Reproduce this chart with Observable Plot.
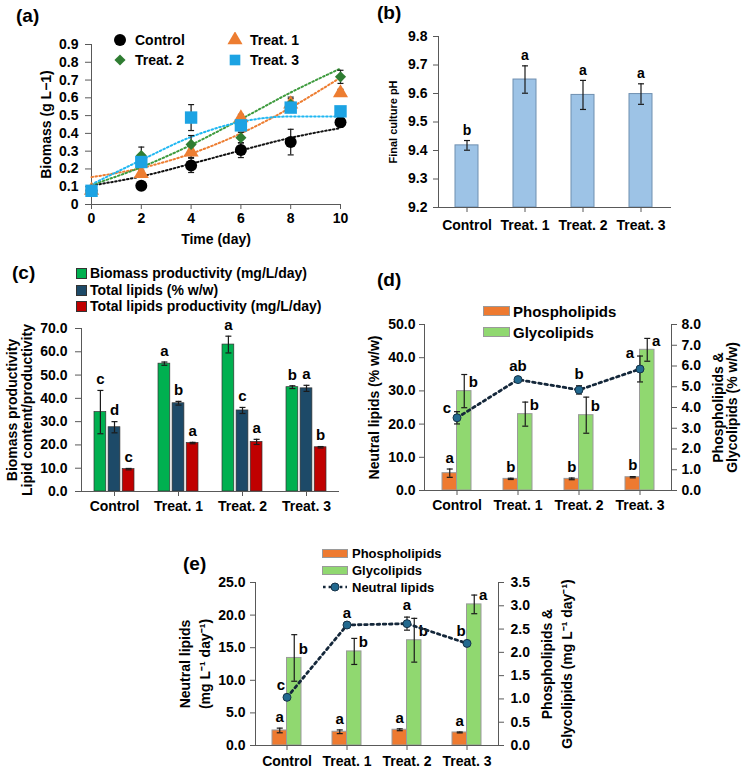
<!DOCTYPE html>
<html>
<head>
<meta charset="utf-8">
<script src="https://cdn.jsdelivr.net/npm/d3@7"></script>
<script src="https://cdn.jsdelivr.net/npm/@observablehq/plot@0.6"></script>
<style>
  html, body { margin: 0; padding: 0; background: #fff; }
  #fig { position: relative; width: 744px; height: 768px; overflow: hidden; font-family: "Liberation Sans", Arial, Helvetica, sans-serif; font-weight: bold; color: #000; }
  .panel { position: absolute; }
  .panel svg { overflow: visible; }
  .tag { position: absolute; font-size: 19px; font-weight: bold; line-height: 1; }
  .leg { position: absolute; font-size: 14px; font-weight: bold; line-height: 1; white-space: nowrap; display: flex; align-items: center; height: 16px; }
  .leg svg { display: block; }
</style>
</head>
<body>
<div id="fig"></div>
<script>
// ---------------- DATA ----------------
const categories = ["Control", "Treat. 1", "Treat. 2", "Treat. 3"];

// (a) biomass growth
const days = [0, 2, 4, 6, 8, 10];
const seriesA = ["Control", "Treat. 1", "Treat. 2", "Treat. 3"];
const biomassControl = [0.078, 0.105, 0.220, 0.306, 0.351, 0.462];
const biomassT1 = [0.080, 0.173, 0.295, 0.487, 0.565, 0.628];
const biomassT2 = [0.082, 0.276, 0.338, 0.376, 0.564, 0.718];
const biomassT3 = [0.077, 0.239, 0.489, 0.445, 0.545, 0.524];
const errControl = [0.005, 0.008, 0.040, 0.042, 0.072, 0.028];
const errT1 = [0.005, 0.020, 0.030, 0.020, 0.030, 0.020];
const errT2 = [0.005, 0.047, 0.050, 0.030, 0.040, 0.037];
const errT3 = [0.010, 0.020, 0.073, 0.030, 0.020, 0.015];
const trendControl = [0.107, 0.158, 0.229, 0.304, 0.375, 0.430];
const trendT1 = [0.154, 0.205, 0.286, 0.400, 0.545, 0.714];
const trendT2 = [0.110, 0.210, 0.335, 0.480, 0.630, 0.765];
const trendT3 = [0.113, 0.250, 0.380, 0.465, 0.495, 0.495];
const yTicksA = [0, 0.1, 0.2, 0.3, 0.4, 0.5, 0.6, 0.7, 0.8, 0.9];

// (b) final pH
const phFinal = [9.418, 9.649, 9.595, 9.598];
const phErr = [0.017, 0.048, 0.051, 0.036];
const phLetters = ["b", "a", "a", "a"];
const yTicksB = [9.2, 9.3, 9.4, 9.5, 9.6, 9.7, 9.8];

// (c) productivity
const seriesC = ["Biomass productivity (mg/L/day)", "Total lipids (% w/w)", "Total lipids productivity (mg/L/day)"];
const biomassProd = [34.1, 54.9, 63.1, 44.8];
const biomassProdErr = [9.3, 0.7, 3.6, 0.6];
const totalLipids = [27.6, 37.9, 34.8, 44.3];
const totalLipidsErr = [2.4, 0.8, 1.3, 1.3];
const lipidProd = [9.6, 20.8, 21.3, 19.0];
const lipidProdErr = [0.3, 0.3, 1.1, 0.3];
const lettersBiomassProd = ["c", "a", "a", "b"];
const lettersTotalLipids = ["d", "b", "c", "a"];
const lettersLipidProd = ["c", "a", "a", "b"];
const yTicksC = [0, 10, 20, 30, 40, 50, 60, 70];

// (d) lipid classes (% w/w)
const neutralPct = [21.9, 33.4, 30.3, 36.6];
const neutralPctErr = [1.85, 0.3, 1.25, 3.9];
const phosphoPct = [0.835, 0.56, 0.56, 0.64];
const phosphoPctErr = [0.2, 0.03, 0.04, 0.03];
const glycoPct = [4.79, 3.68, 3.63, 6.78];
const glycoPctErr = [0.8, 0.58, 0.87, 0.55];
const lettersNeutralPct = ["c", "ab", "b", "a"];
const lettersPhosphoPct = ["a", "b", "b", "b"];
const lettersGlycoPct = ["b", "b", "b", "a"];
const leftTicksD = [0, 10, 20, 30, 40, 50];
const rightTicksD = [0, 1, 2, 3, 4, 5, 6, 7, 8];

// (e) lipid class productivity
const neutralProd = [7.39, 18.48, 18.69, 15.66];
const neutralProdErr = [0, 0, 1.0, 0];
const phosphoProd = [0.323, 0.295, 0.338, 0.28];
const phosphoProdErr = [0.05, 0.04, 0.02, 0.01];
const glycoProd = [1.88, 2.02, 2.26, 3.03];
const glycoProdErr = [0.5, 0.28, 0.47, 0.2];
const lettersNeutralProd = ["c", "a", "a", "b"];
const lettersPhosphoProd = ["a", "a", "a", "a"];
const lettersGlycoProd = ["b", "b", "b", "a"];
const leftTicksE = [0, 5, 10, 15, 20, 25];
const rightTicksE = [0, 0.5, 1, 1.5, 2, 2.5, 3, 3.5];

// ---------------- STYLE / HELPERS ----------------
const FONT = '"Liberation Sans", Arial, Helvetica, sans-serif';
const AXIS = "#595959";
const ERR = "#1a1a1a";
const fig = document.getElementById("fig");
const style = (fs) => ({fontFamily: FONT, fontSize: fs + "px", fontWeight: "bold", color: "#000", background: "transparent", overflow: "visible"});

function addPanel(svg, left, top) {
  const d = document.createElement("div");
  d.className = "panel";
  d.style.left = left + "px"; d.style.top = top + "px";
  d.appendChild(svg); fig.appendChild(d);
}
function addTag(text, left, top) {
  const d = document.createElement("div");
  d.className = "tag"; d.textContent = text;
  d.style.left = left + "px"; d.style.top = top + "px";
  fig.appendChild(d);
}
function addLegend(left, cy, swatch, text, fs) {
  const d = document.createElement("div");
  d.className = "leg";
  d.style.left = left + "px"; d.style.top = (cy - 8) + "px";
  if (fs) d.style.fontSize = fs + "px";
  d.innerHTML = swatch + "<span>" + text + "</span>";
  fig.appendChild(d);
}
const rectSwatch = (w, h, fill, stroke, gap) =>
  `<svg width="${w}" height="${h}" style="margin-right:${gap}px"><rect x="0.5" y="0.5" width="${w - 1}" height="${h - 1}" fill="${fill}" stroke="${stroke}"/></svg>`;
const symbolSwatch = (sym, r, fill, gap) =>
  `<svg width="16" height="16" style="margin-right:${gap}px"><path transform="translate(8,8)" d="${d3.symbol(sym, Math.PI * r * r)()}" fill="${fill}"/></svg>`;

const capSymbol = {draw(ctx, size) { const r = Math.sqrt(size / Math.PI); ctx.moveTo(-r, 0); ctx.lineTo(r, 0); }};

function errorBars(rows, x, y, err, dx = 0, cap = 3) {
  const rs = rows.filter(d => d[err] > 0);
  return [
    Plot.ruleX(rs, {x, y1: d => d[y] - d[err], y2: d => d[y] + d[err], dx, stroke: ERR, strokeWidth: 1.2}),
    Plot.dot(rs, {x, y: d => d[y] + d[err], dx, symbol: capSymbol, r: cap, stroke: ERR, strokeWidth: 1.2, fill: "none"}),
    Plot.dot(rs, {x, y: d => d[y] - d[err], dx, symbol: capSymbol, r: cap, stroke: ERR, strokeWidth: 1.2, fill: "none"})
  ];
}
const fmt1 = d => (+d).toFixed(1);
const vLabel = (t, anchor, dx, extra = {}) => Plot.text([t], {text: d => d, frameAnchor: anchor, textAnchor: "middle", lineAnchor: "middle", dx, rotate: -90, ...extra});

// ---------------- PANEL (a) ----------------
{
  const values = [biomassControl, biomassT1, biomassT2, biomassT3];
  const errs = [errControl, errT1, errT2, errT3];
  const trends = [trendControl, trendT1, trendT2, trendT3];
  const rowsA = seriesA.flatMap((s, i) => days.map((day, j) => ({series: s, day, value: values[i][j], err: errs[i][j], trend: trends[i][j]})));
  const dotColors = ["#000000", "#ed7d31", "#2f7d32", "#1ca3e3"];
  const trendColors = ["#111111", "#ed7d31", "#3e9b3e", "#1fb7f2"];
  const symbols = ["circle", "triangle", "diamond2", "square"];
  const radii = [6, 5.6, 5, 7];
  const marks = [
    Plot.frame({anchor: "left", stroke: AXIS}),
    Plot.frame({anchor: "bottom", stroke: AXIS}),
    Plot.axisY({ticks: yTicksA, tickSize: 6, tickPadding: 7, tickFormat: d => d === 0 ? "0" : fmt1(d), stroke: AXIS, label: null}),
    Plot.axisX({ticks: days, tickSize: 5, tickPadding: 4, stroke: AXIS, label: null}),
    Plot.text(["Time (day)"], {text: d => d, frameAnchor: "bottom", dy: 39}),
    vLabel("Biomass (g L−1)", "left", -45)
  ];
  seriesA.forEach((s, i) => marks.push(Plot.line(rowsA.filter(d => d.series === s), {x: "day", y: "trend", stroke: trendColors[i], strokeWidth: 2, strokeDasharray: "1.6 2.4", curve: "monotone-x"})));
  seriesA.forEach((s, i) => marks.push(...errorBars(rowsA.filter(d => d.series === s), "day", "value", "err", 0, 3)));
  seriesA.forEach((s, i) => marks.push(Plot.dot(rowsA.filter(d => d.series === s), {x: "day", y: "value", symbol: symbols[i], r: radii[i], fill: dotColors[i]})));
  addPanel(Plot.plot({
    width: 360, height: 258, marginLeft: 91, marginRight: 20, marginTop: 44, marginBottom: 54,
    style: style(14), x: {domain: [0, 10]}, y: {domain: [0, 0.9]}, marks
  }), 0, 0);
  addTag("(a)", 16, 6);
  addLegend(112, 40, symbolSwatch(d3.symbolCircle, 6, dotColors[0], 7), seriesA[0]);
  addLegend(227, 40, symbolSwatch(d3.symbolTriangle, 5.6, dotColors[1], 7), seriesA[1]);
  addLegend(112, 60, symbolSwatch(d3.symbolDiamond2, 5, dotColors[2], 7), seriesA[2]);
  addLegend(227, 60, symbolSwatch(d3.symbolSquare, 6, dotColors[3], 7), seriesA[3]);
}

// ---------------- PANEL (b) ----------------
{
  const rowsB = categories.map((c, i) => ({cat: c, value: phFinal[i], err: phErr[i], letter: phLetters[i]}));
  addPanel(Plot.plot({
    width: 374, height: 250, marginLeft: 68, marginRight: 74, marginTop: 36, marginBottom: 43,
    style: style(14),
    x: {domain: categories, paddingInner: 0.6, paddingOuter: 0.3},
    y: {domain: [yTicksB[0], yTicksB[yTicksB.length - 1]]},
    marks: [
      Plot.barY(rowsB, {x: "cat", y1: yTicksB[0], y2: "value", fill: "#9dc3e6", stroke: "#6f8fb0", strokeWidth: 1}),
      ...errorBars(rowsB, "cat", "value", "err", 0, 3),
      Plot.text(rowsB, {x: "cat", y: d => d.value + d.err, text: "letter", dy: -10}),
      Plot.frame({anchor: "left", stroke: AXIS}),
      Plot.frame({anchor: "bottom", stroke: AXIS}),
      Plot.axisY({ticks: yTicksB, tickSize: 5, tickPadding: 6, tickFormat: fmt1, stroke: AXIS, label: null}),
      Plot.axisX({tickSize: 5, tickPadding: 8, stroke: AXIS, label: null}),
      vLabel("Final culture pH", "left", -45, {fontSize: 11})
    ]
  }), 370, 0);
  addTag("(b)", 377, 3);
}

// ---------------- PANEL (c) ----------------
{
  const colorsC = ["#00b050", "#1d4a68", "#c00000"];
  const bw = (257 / 4) * (1 - 0.38);
  const gap = 2.5;
  const barW = (bw - 2 * gap) / 3;
  const vals = [biomassProd, totalLipids, lipidProd];
  const errs = [biomassProdErr, totalLipidsErr, lipidProdErr];
  const lets = [lettersBiomassProd, lettersTotalLipids, lettersLipidProd];
  const rowsC = seriesC.flatMap((s, k) => categories.map((c, i) => ({series: s, k, cat: c, value: vals[k][i], err: errs[k][i], letter: lets[k][i]})));
  const marks = [];
  seriesC.forEach((s, k) => {
    const rows = rowsC.filter(d => d.k === k);
    const insetLeft = k * (barW + gap), insetRight = bw - insetLeft - barW;
    const dx = (k - 1) * (barW + gap);
    marks.push(Plot.barY(rows, {x: "cat", y: "value", fill: colorsC[k], stroke: "#333", strokeWidth: 0.7, insetLeft, insetRight}));
    marks.push(...errorBars(rows, "cat", "value", "err", dx, 3));
    marks.push(Plot.text(rows, {x: "cat", y: d => d.value + d.err, text: "letter", dx, dy: -11, fontSize: 15}));
  });
  addPanel(Plot.plot({
    width: 360, height: 268, marginLeft: 81, marginRight: 22, marginTop: 78, marginBottom: 27,
    style: style(14),
    x: {domain: categories, paddingInner: 0.38, paddingOuter: 0.19},
    y: {domain: [0, 70]},
    marks: [
      ...marks,
      Plot.frame({anchor: "left", stroke: AXIS}),
      Plot.frame({anchor: "bottom", stroke: AXIS}),
      Plot.axisY({ticks: yTicksC, tickSize: 6, tickPadding: 8, tickFormat: fmt1, stroke: AXIS, label: null}),
      Plot.axisX({tickSize: 5, tickPadding: 5, stroke: AXIS, label: null}),
      vLabel("Biomass productivity", "left", -69),
      vLabel("Lipid content/productivity", "left", -54)
    ]
  }), 0, 250);
  addTag("(c)", 12, 263);
  addLegend(76, 273, rectSwatch(11, 11, colorsC[0], "#333", 3), seriesC[0]);
  addLegend(76, 290, rectSwatch(11, 11, colorsC[1], "#333", 3), seriesC[1]);
  addLegend(76, 306, rectSwatch(11, 11, colorsC[2], "#333", 3), seriesC[2]);
}

// lipid class panels helper
const ORANGE = "#ee7a30", LGREEN = "#90d870", BARSTROKE = "#9a9a9a";
const LINE = "#14273a", DOTF = "#22698f", DOTS = "#163349";

function lipidPanel(o) {
  const k = o.k, bw = o.bw;
  const rows = categories.map((c, i) => ({
    cat: c, neutral: o.neutral[i], nErr: o.neutralErr[i], nLet: o.lettersNeutral[i],
    phos: o.phospho[i] * k, pErr: o.phosphoErr[i] * k, pLet: o.lettersPhospho[i],
    gly: o.glyco[i] * k, gErr: o.glycoErr[i] * k, gLet: o.lettersGlyco[i]
  }));
  const off = bw / 4;
  return Plot.plot({
    width: o.width, height: o.height, marginLeft: o.ml, marginRight: o.mr, marginTop: o.mt, marginBottom: o.mb,
    style: style(14),
    x: {domain: categories, paddingInner: o.pad, paddingOuter: o.pad / 2},
    y: {domain: [0, o.leftTicks[o.leftTicks.length - 1]]},
    marks: [
      Plot.barY(rows, {x: "cat", y: "phos", fill: ORANGE, stroke: BARSTROKE, strokeWidth: 1, insetRight: bw / 2}),
      Plot.barY(rows, {x: "cat", y: "gly", fill: LGREEN, stroke: BARSTROKE, strokeWidth: 1, insetLeft: bw / 2}),
      ...errorBars(rows, "cat", "phos", "pErr", -off, 3),
      ...errorBars(rows, "cat", "gly", "gErr", off, 3),
      Plot.text(rows, {x: "cat", y: d => d.phos + d.pErr, text: "pLet", dx: -off, dy: -11, fontSize: 15}),
      Plot.text(rows, {x: "cat", y: "gly", text: "gLet", dx: off + 9, dy: -9, fontSize: 15}),
      Plot.line(rows, {x: "cat", y: "neutral", stroke: LINE, strokeWidth: 2.8, strokeDasharray: "2.6 3.6"}),
      ...errorBars(rows, "cat", "neutral", "nErr", 0, 3),
      Plot.dot(rows, {x: "cat", y: "neutral", r: 4, fill: DOTF, stroke: DOTS, strokeWidth: 1}),
      Plot.text(rows, {x: "cat", y: d => d.neutral + d.nErr, text: "nLet", dy: -12, fontSize: 15, filter: d => !o.leftLetters.includes(d.cat)}),
      Plot.text(rows, {x: "cat", y: d => d.neutral + d.nErr, text: "nLet", dx: o.leftDx, dy: o.leftDy, fontSize: 15, filter: d => o.leftLetters.includes(d.cat)}),
      Plot.frame({anchor: "left", stroke: AXIS}),
      Plot.frame({anchor: "right", stroke: AXIS}),
      Plot.frame({anchor: "bottom", stroke: AXIS}),
      Plot.axisY({ticks: o.leftTicks, tickSize: 5, tickPadding: o.lPad, tickFormat: fmt1, stroke: AXIS, label: null}),
      Plot.axisY({anchor: "right", ticks: o.rightTicks.map(v => v * k), tickSize: 5, tickPadding: o.rPad, tickFormat: v => fmt1(v / k), stroke: AXIS, label: null}),
      Plot.axisX({tickSize: 5, tickPadding: o.xPad, stroke: AXIS, label: null}),
      ...o.leftLabel.map((t, j) => vLabel(t, "left", o.leftLabelDx[j])),
      ...o.rightLabel.map((t, j) => vLabel(t, "right", o.rightLabelDx[j]))
    ]
  });
}

// ---------------- PANEL (d) ----------------
{
  const kD = leftTicksD[leftTicksD.length - 1] / rightTicksD[rightTicksD.length - 1];
  addPanel(lipidPanel({
    k: kD, bw: 29, pad: 0.53,
    width: 374, height: 268, ml: 54, mr: 73, mt: 74, mb: 28, xPad: 5, lPad: 4, rPad: 5,
    neutral: neutralPct, neutralErr: neutralPctErr, lettersNeutral: lettersNeutralPct,
    phospho: phosphoPct, phosphoErr: phosphoPctErr, lettersPhospho: lettersPhosphoPct,
    glyco: glycoPct, glycoErr: glycoPctErr, lettersGlyco: lettersGlycoPct,
    leftTicks: leftTicksD, rightTicks: rightTicksD,
    leftLetters: ["Control", "Treat. 3"], leftDx: -10, leftDy: -3,
    leftLabel: ["Neutral lipids (% w/w)"], leftLabelDx: [-50],
    rightLabel: ["Phospholipids &", "Glycolipids (% w/w)"], rightLabelDx: [47, 61]
  }), 370, 250);
  addTag("(d)", 377, 270);
  addLegend(483, 311, rectSwatch(27, 10, ORANGE, BARSTROKE, 3), "Phospholipids", 15);
  addLegend(483, 332, rectSwatch(27, 10, LGREEN, BARSTROKE, 3), "Glycolipids", 15);
}

// ---------------- PANEL (e) ----------------
{
  const kE = leftTicksE[leftTicksE.length - 1] / rightTicksE[rightTicksE.length - 1];
  addPanel(lipidPanel({
    k: kE, bw: 29, pad: 0.523,
    width: 400, height: 248, ml: 75, mr: 82, mt: 62, mb: 23, xPad: 6, lPad: 5, rPad: 7,
    neutral: neutralProd, neutralErr: neutralProdErr, lettersNeutral: lettersNeutralProd,
    phospho: phosphoProd, phosphoErr: phosphoProdErr, lettersPhospho: lettersPhosphoProd,
    glyco: glycoProd, glycoErr: glycoProdErr, lettersGlyco: lettersGlycoProd,
    leftTicks: leftTicksE, rightTicks: rightTicksE,
    leftLetters: ["Control", "Treat. 3"], leftDx: -6, leftDy: -12,
    leftLabel: ["Neutral lipids", "(mg L⁻¹ day⁻¹)"], leftLabelDx: [-70, -50],
    rightLabel: ["Phospholipids &", "Glycolipids (mg L⁻¹ day⁻¹)"], rightLabelDx: [49, 69]
  }), 180, 520);
  addTag("(e)", 183, 554);
  addLegend(322, 553, rectSwatch(26, 9, ORANGE, BARSTROKE, 4), "Phospholipids", 13);
  addLegend(322, 570, rectSwatch(26, 9, LGREEN, BARSTROKE, 4), "Glycolipids", 13);
  addLegend(322, 587,
    `<svg width="26" height="12" style="margin-right:4px"><line x1="1" y1="6" x2="25" y2="6" stroke="${LINE}" stroke-width="2.6" stroke-dasharray="2.6 3"/><circle cx="13" cy="6" r="4" fill="${DOTF}" stroke="${DOTS}"/></svg>`,
    "Neutral lipids", 13);
}
</script>
</body>
</html>
